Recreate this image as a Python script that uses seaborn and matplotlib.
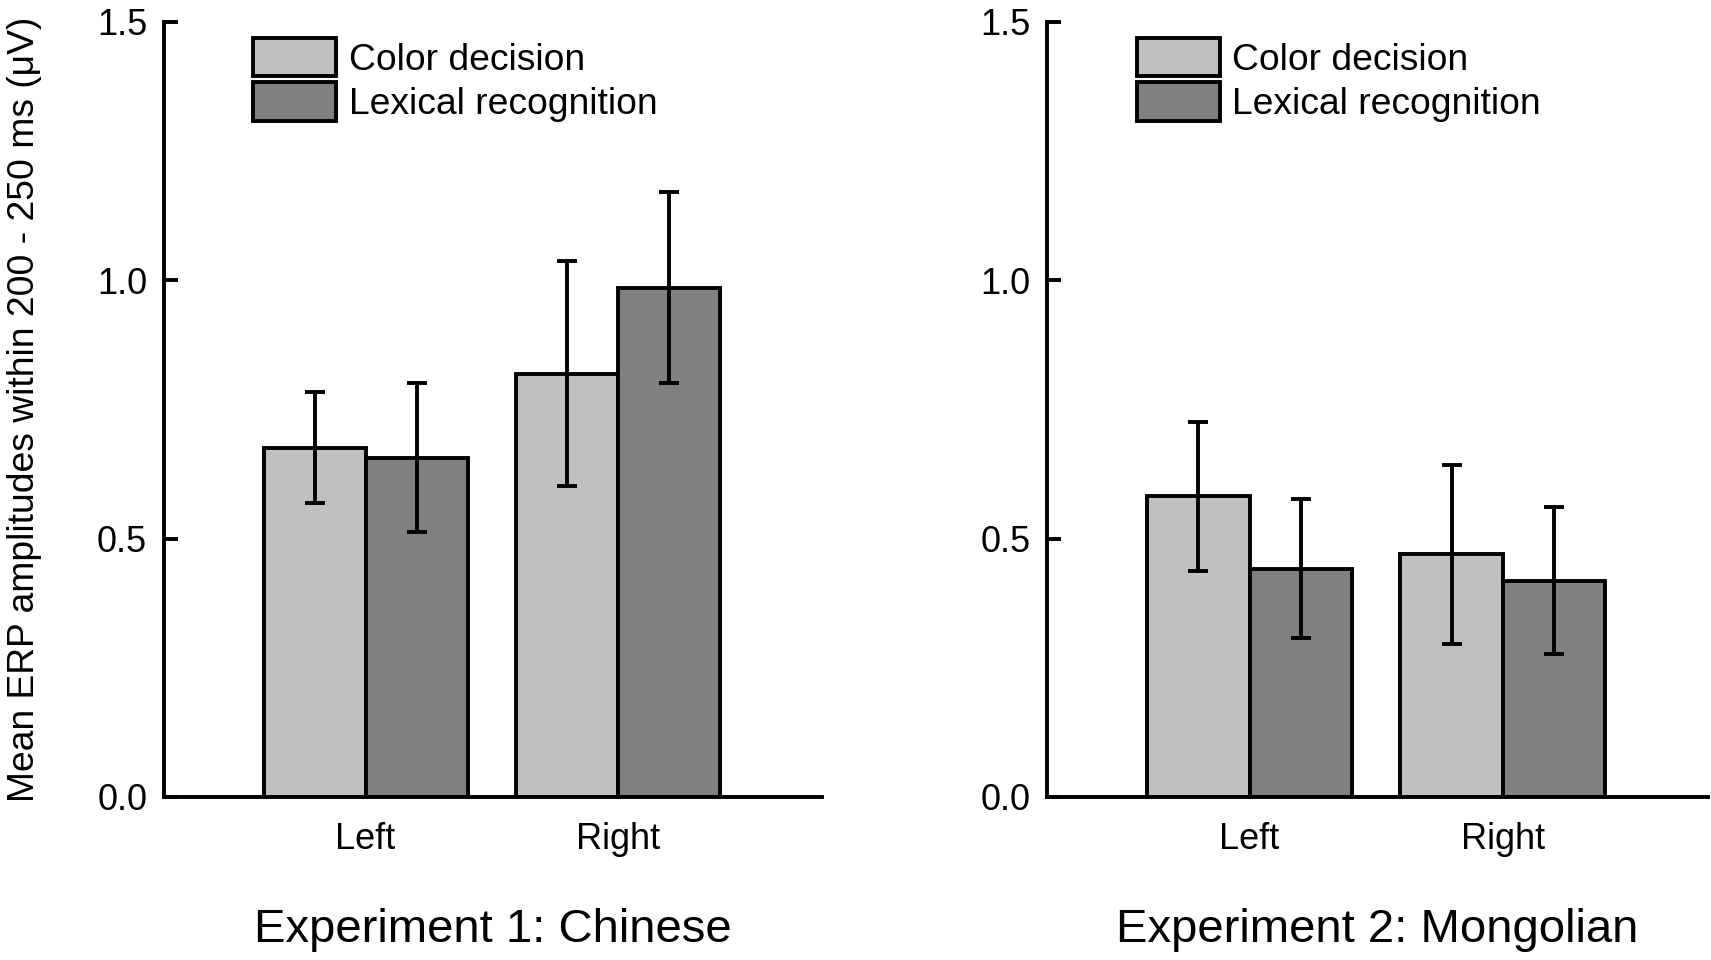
import pandas as pd
import matplotlib
matplotlib.use("Agg")
import matplotlib.pyplot as plt
import seaborn as sns

#
# data
#
sides = ["Left", "Right"]
tasks = ["Color decision", "Lexical recognition"]
exp_titles = ["Experiment 1: Chinese", "Experiment 2: Mongolian"]

# mean amplitudes (Left, Right)
chinese_color = [0.676, 0.819]
chinese_lexical = [0.657, 0.986]
mongolian_color = [0.582, 0.470]
mongolian_lexical = [0.442, 0.419]

# error bar half lengths (Left, Right)
chinese_color_err = [0.107, 0.218]
chinese_lexical_err = [0.144, 0.185]
mongolian_color_err = [0.144, 0.173]
mongolian_lexical_err = [0.135, 0.142]

colors = ["#c0c0c0", "#808080"]


def make_df(color_vals, lexical_vals):
    return pd.DataFrame({
        "side": sides + sides,
        "task": [tasks[0]] * 2 + [tasks[1]] * 2,
        "amp": list(color_vals) + list(lexical_vals),
    })


experiments = [
    (make_df(chinese_color, chinese_lexical), [chinese_color_err, chinese_lexical_err]),
    (make_df(mongolian_color, mongolian_lexical), [mongolian_color_err, mongolian_lexical_err]),
]

sns.set_style("ticks")
plt.rcParams["font.family"] = ["Liberation Sans", "DejaVu Sans"]
for k in ["text.color", "axes.labelcolor", "xtick.color", "ytick.color", "axes.edgecolor"]:
    plt.rcParams[k] = "black"

fig = plt.figure(figsize=(17.11, 9.6), dpi=100)
ax1 = fig.add_axes([0.0958, 0.1698, 0.3846, 0.8073])
ax2 = fig.add_axes([0.6119, 0.1698, 0.3863, 0.8073])

for ax, (df, errs), title in zip([ax1, ax2], experiments, exp_titles):
    sns.barplot(data=df, x="side", y="amp", hue="task", order=sides, hue_order=tasks,
                palette=colors, saturation=1, edgecolor="black", linewidth=2.8,
                width=0.81, errorbar=None, ax=ax)

    # error bars on the centre of every bar
    for cont, err in zip(ax.containers, errs):
        xs = [p.get_x() + p.get_width() / 2 for p in cont]
        ys = [p.get_height() for p in cont]
        ax.errorbar(xs, ys, yerr=err, fmt="none", ecolor="black",
                    elinewidth=2.8, capsize=7, capthick=2.8, zorder=5)

    handles, labels = ax.get_legend_handles_labels()
    ax.legend(handles, labels, loc="upper left", bbox_to_anchor=(0.136, 0.979),
              frameon=False, fontsize=26.8, handlelength=2.23, handleheight=1.2,
              labelspacing=0.12, handletextpad=0.33, borderpad=0, borderaxespad=0)

    ax.set_ylim(0, 1.5)
    ax.set_xlim(-0.8, 1.81)
    ax.set_yticks([0, 0.5, 1.0, 1.5])
    ax.set_yticklabels(["0.0", "0.5", "1.0", "1.5"])
    sns.despine(ax=ax)
    for s in ["left", "bottom"]:
        ax.spines[s].set_linewidth(2.8)
    ax.tick_params(axis="y", direction="in", length=10, width=2.8, labelsize=26, pad=12)
    ax.tick_params(axis="x", length=0, labelsize=26, pad=18)
    ax.set_xlabel(title, fontsize=34, labelpad=37)
    ax.set_ylabel("")

ax1.set_ylabel("Mean ERP amplitudes within 200 - 250 ms (\u03bcV)", fontsize=26.8)
ax1.yaxis.set_label_coords(-0.185, 0.5)

fig.savefig("out.png", dpi=100)
